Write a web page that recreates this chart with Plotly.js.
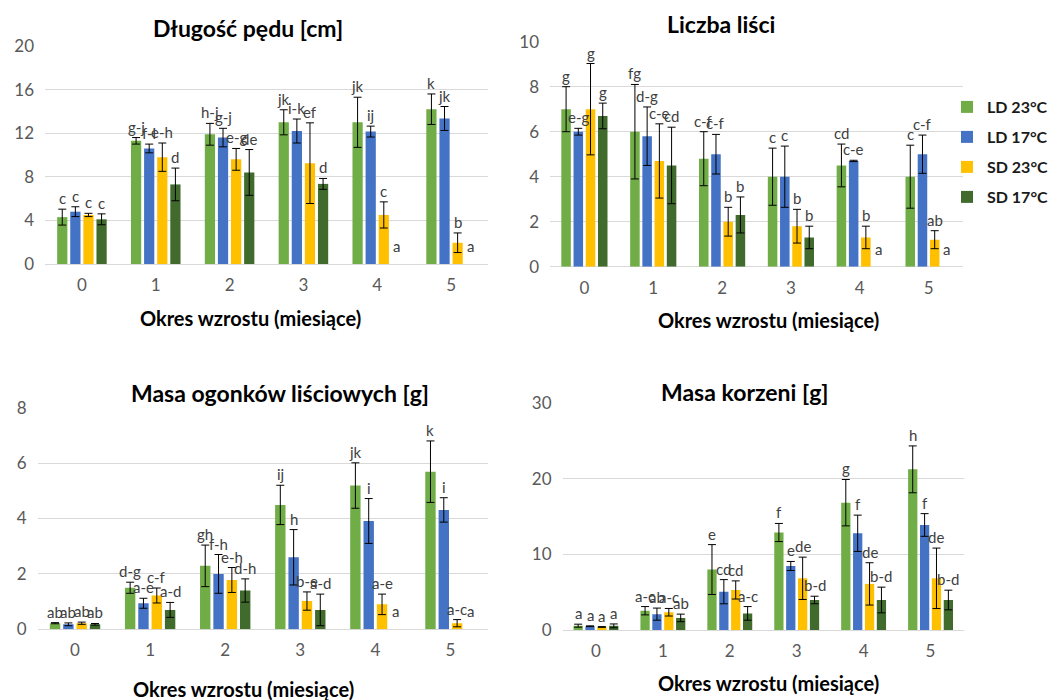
<!DOCTYPE html>
<html>
<head>
<meta charset="utf-8">
<script src="https://cdn.plot.ly/plotly-3.0.1.min.js"></script>
<style>html,body{margin:0;padding:0;background:#fff;}#chart{width:1052px;height:700px;}</style>
</head>
<body>
<div id="chart"></div>
<script>
// ---------- data ----------
const months = [0, 1, 2, 3, 4, 5];
const monthLabels = ['0', '1', '2', '3', '4', '5'];
const seriesNames = ['LD 23°C', 'LD 17°C', 'SD 23°C', 'SD 17°C'];

// Długość pędu [cm]
const shootLD23 = [4.3, 11.3, 11.9, 13.0, 13.0, 14.2];
const shootLD17 = [4.8, 10.6, 11.6, 12.2, 12.15, 13.35];
const shootSD23 = [4.5, 9.8, 9.6, 9.25, 4.5, 1.95];
const shootSD17 = [4.1, 7.3, 8.4, 7.35, null, null];
const shootErrLD23 = [0.73, 0.3, 1.0, 1.15, 2.3, 1.4];
const shootErrLD17 = [0.45, 0.4, 0.85, 1.1, 0.5, 1.1];
const shootErrSD23 = [0.15, 1.3, 1.0, 3.7, 1.2, 0.9];
const shootErrSD17 = [0.5, 1.5, 2.1, 0.5, null, null];
const shootLetLD23 = ['c', 'g-j', 'h-j', 'jk', 'jk', 'k'];
const shootLetLD17 = ['c', 'f-i', 'g-j', 'i-k', 'ij', 'jk'];
const shootLetSD23 = ['c', 'e-h', 'e-g', 'ef', 'c', 'b'];
const shootLetSD17 = ['c', 'd', 'de', 'd', 'a', 'a'];

// Liczba liści
const leafLD23 = [7.0, 6.0, 4.8, 4.0, 4.5, 4.0];
const leafLD17 = [6.0, 5.8, 5.0, 4.0, 4.7, 5.0];
const leafSD23 = [7.0, 4.7, 2.0, 1.8, 1.3, 1.2];
const leafSD17 = [6.7, 4.5, 2.3, 1.3, null, null];
const leafErrLD23 = [1.0, 2.1, 1.2, 1.27, 0.95, 1.4];
const leafErrLD17 = [0.15, 1.3, 0.88, 1.36, 0.03, 0.85];
const leafErrSD23 = [2.03, 1.65, 0.64, 0.75, 0.5, 0.4];
const leafErrSD17 = [0.57, 1.7, 0.8, 0.5, null, null];
const leafLetLD23 = ['g', 'fg', 'c-f', 'c', 'cd', 'c'];
const leafLetLD17 = ['e-g', 'd-g', 'c-f', 'c', 'c-e', 'c-f'];
const leafLetSD23 = ['g', 'c-e', 'b', 'b', 'b', 'ab'];
const leafLetSD17 = ['g', 'cd', 'b', 'b', 'a', 'a'];

// Masa ogonków liściowych [g]
const petLD23 = [0.22, 1.5, 2.29, 4.49, 5.19, 5.69];
const petLD17 = [0.18, 0.94, 2.0, 2.6, 3.91, 4.31];
const petSD23 = [0.22, 1.22, 1.78, 1.02, 0.9, 0.22];
const petSD17 = [0.18, 0.7, 1.4, 0.7, null, null];
const petErrLD23 = [0.02, 0.2, 0.75, 0.71, 0.82, 1.11];
const petErrLD17 = [0.05, 0.18, 0.7, 1.0, 0.81, 0.44];
const petErrSD23 = [0.04, 0.27, 0.45, 0.33, 0.37, 0.13];
const petErrSD17 = [0.03, 0.27, 0.42, 0.57, null, null];
const petLetLD23 = ['ab', 'd-g', 'gh', 'ij', 'jk', 'k'];
const petLetLD17 = ['ab', 'a-e', 'f-h', 'h', 'i', 'i'];
const petLetSD23 = ['ab', 'c-f', 'e-h', 'b-e', 'a-e', 'a-c'];
const petLetSD17 = ['ab', 'a-d', 'd-h', 'a-d', 'a', 'a'];

// Masa korzeni [g]
const rootLD23 = [0.57, 2.55, 8.0, 12.9, 16.85, 21.26];
const rootLD17 = [0.5, 2.1, 5.07, 8.47, 12.8, 13.9];
const rootSD23 = [0.4, 2.35, 5.3, 6.84, 6.1, 6.84];
const rootSD17 = [0.55, 1.6, 2.2, 3.97, 3.97, 3.97];
const rootErrLD23 = [0.2, 0.55, 3.3, 1.2, 3.07, 3.1];
const rootErrLD17 = [0.05, 0.8, 1.6, 0.6, 2.4, 1.5];
const rootErrSD23 = [0.05, 0.5, 1.2, 2.8, 2.8, 4.0];
const rootErrSD17 = [0.25, 0.5, 0.9, 0.5, 1.7, 1.3];
const rootLetLD23 = ['a', 'a-c', 'e', 'f', 'g', 'h'];
const rootLetLD17 = ['a', 'ab', 'cd', 'e', 'f', 'f'];
const rootLetSD23 = ['a', 'a-c', 'cd', 'de', 'de', 'de'];
const rootLetSD17 = ['a', 'ab', 'a-c', 'b-d', 'b-d', 'b-d'];

const panelTitles = ['Długość pędu [cm]', 'Liczba liści', 'Masa ogonków liściowych [g]', 'Masa korzeni [g]'];
const xTitle = 'Okres wzrostu (miesiące)';

// ---------- styling / layout ----------
const colors = ['#70AD47', '#4472C4', '#FFC000', '#406B2D'];
const W = 1052, H = 700;
const FONT = 'Lato, "Open Sans", sans-serif';
const BARGAP = 0.29, BARGROUPGAP = 0.22;
const legendCentersPx = [107, 137, 167, 197];
const legendLeftPx = 947;

const panels = [
  { vals: [shootLD23, shootLD17, shootSD23, shootSD17],
    errs: [shootErrLD23, shootErrLD17, shootErrSD23, shootErrSD17],
    lets: [shootLetLD23, shootLetLD17, shootLetSD23, shootLetSD17],
    px: [45, 488], py: [46, 264], range: [0, 20], dtick: 4,
    title: [248, 28], xt: [250, 318] },
  { vals: [leafLD23, leafLD17, leafSD23, leafSD17],
    errs: [leafErrLD23, leafErrLD17, leafErrSD23, leafErrSD17],
    lets: [leafLetLD23, leafLetLD17, leafLetSD23, leafLetSD17],
    px: [550, 963], py: [41.7, 266.7], range: [0, 10], dtick: 2,
    title: [721, 24], xt: [768, 320] },
  { vals: [petLD23, petLD17, petSD23, petSD17],
    errs: [petErrLD23, petErrLD17, petErrSD23, petErrSD17],
    lets: [petLetLD23, petLetLD17, petLetSD23, petLetSD17],
    px: [37.5, 488], py: [407.7, 629.3], range: [0, 8], dtick: 2,
    title: [280, 393], xt: [243, 689] },
  { vals: [rootLD23, rootLD17, rootSD23, rootSD17],
    errs: [rootErrLD23, rootErrLD17, rootErrSD23, rootErrSD17],
    lets: [rootLetLD23, rootLetLD17, rootLetSD23, rootLetSD17],
    px: [562.5, 964], py: [403.3, 630], range: [0, 30], dtick: 10,
    title: [745, 392], xt: [768, 683] }
];

const data = [];
const annotations = [];
const layout = {
  width: W, height: H, autosize: false,
  margin: { l: 0, r: 0, t: 0, b: 0, pad: 0, autoexpand: false },
  paper_bgcolor: '#fff', plot_bgcolor: '#fff',
  barmode: 'group', bargap: BARGAP, bargroupgap: BARGROUPGAP,
  font: { family: FONT, color: '#595959' },
  showlegend: true,
  annotations: annotations
};
const legendKeys = seriesNames.map((_, i) => i === 0 ? 'legend' : 'legend' + (i + 1));
legendKeys.forEach((key, i) => {
  layout[key] = {
    x: legendLeftPx / W, y: 1 - legendCentersPx[i] / H,
    xanchor: 'left', yanchor: 'middle',
    font: { family: FONT, size: 16, color: '#1a1a1a', weight: 'bold' },
    bgcolor: 'rgba(0,0,0,0)', borderwidth: 0, itemwidth: 30
  };
});

const slot = (1 - BARGAP) / 4;

panels.forEach((p, k) => {
  const sfx = k === 0 ? '' : String(k + 1);
  const xa = 'x' + sfx, ya = 'y' + sfx;
  layout['xaxis' + sfx] = {
    domain: [p.px[0] / W, p.px[1] / W], anchor: ya,
    range: [-0.5, 5.5], tickvals: months, ticktext: monthLabels,
    showgrid: false, zeroline: false, showline: false, ticks: '',
    tickfont: { family: FONT, size: 17, color: '#595959' },
    ticklabelstandoff: 9, fixedrange: true, automargin: false
  };
  layout['yaxis' + sfx] = {
    domain: [1 - p.py[1] / H, 1 - p.py[0] / H], anchor: xa,
    range: p.range, dtick: p.dtick, tick0: 0,
    showgrid: true, gridcolor: '#D9D9D9', gridwidth: 1,
    zeroline: true, zerolinecolor: '#D9D9D9', zerolinewidth: 1,
    showline: false, ticks: '',
    tickfont: { family: FONT, size: 17, color: '#595959' },
    ticklabelstandoff: 10, fixedrange: true, automargin: false
  };
  for (let i = 0; i < 4; i++) {
    data.push({
      type: 'bar', x: months, y: p.vals[i], name: seriesNames[i],
      xaxis: xa, yaxis: ya,
      legend: legendKeys[i],
      legendgroup: 'g' + i, showlegend: k === 0,
      marker: { color: colors[i], line: { width: 0 } },
      error_y: { type: 'data', array: p.errs[i], visible: true,
                 color: '#000', thickness: 1, width: 4 },
      hoverinfo: 'x+y+name'
    });
    months.forEach((m, j) => {
      const v = p.vals[i][j];
      const e = p.errs[i][j];
      const top = (v == null ? 0 : v) + (e == null ? 0 : e);
      annotations.push({
        xref: xa, yref: ya, x: m + (i - 1.5) * slot, y: top,
        text: p.lets[i][j], showarrow: false,
        xanchor: 'center', yanchor: 'bottom', yshift: v == null ? 7 : 0,
        font: { family: FONT, size: 15, color: '#404040' }
      });
    });
  }
  annotations.push({
    xref: 'paper', yref: 'paper', x: p.title[0] / W, y: 1 - p.title[1] / H,
    text: '<b>' + panelTitles[k] + '</b>', showarrow: false,
    xanchor: 'center', yanchor: 'middle',
    font: { family: FONT, size: 23, color: '#000' }
  });
  annotations.push({
    xref: 'paper', yref: 'paper', x: p.xt[0] / W, y: 1 - p.xt[1] / H,
    text: '<b>' + xTitle + '</b>', showarrow: false,
    xanchor: 'center', yanchor: 'middle',
    font: { family: FONT, size: 20, color: '#000' }
  });
});

Plotly.newPlot('chart', data, layout, { displayModeBar: false, staticPlot: true });
</script>
</body>
</html>
